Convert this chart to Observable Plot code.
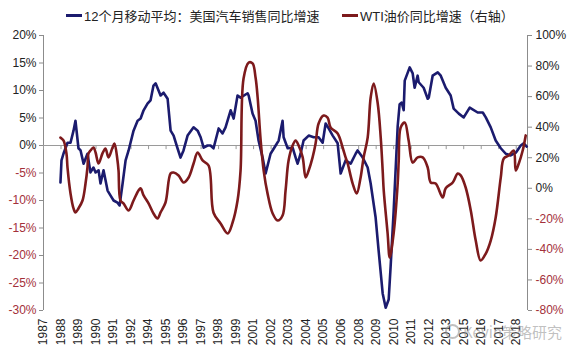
<!DOCTYPE html>
<html><head><meta charset="utf-8">
<script src="https://cdn.jsdelivr.net/npm/d3@7"></script>
<script src="https://cdn.jsdelivr.net/npm/@observablehq/plot@0.6"></script>
<style>
body{margin:0;background:#fff;font-family:"Liberation Sans","Noto Sans CJK SC",sans-serif;}
#wrap{position:relative;width:576px;height:353px;overflow:hidden;}
#legend{position:relative;height:28px;font-size:13px;color:#222;}
.item{position:absolute;top:6px;display:flex;align-items:center;white-space:nowrap;font-family:"Liberation Sans","Noto Sans CJK SC",sans-serif;}
.sw{display:inline-block;width:16px;height:3px;margin-right:2px;}
#wm{position:absolute;left:445px;top:321px;font-size:15px;color:rgba(140,140,140,0.55);font-family:"Noto Sans CJK SC",sans-serif;display:flex;align-items:center;}
#wm span.ic{display:inline-block;width:11px;height:11px;border:2px solid rgba(140,140,140,0.55);border-radius:50%;margin-right:3px;}
</style></head><body>
<div id="wrap">
  <div id="legend">
    <div class="item" style="left:66px"><span class="sw" style="background:#1b1b6e"></span>12个月移动平均：美国汽车销售同比增速</div>
    <div class="item" style="left:342px"><span class="sw" style="background:#7d1a1c"></span>WTI油价同比增速（右轴）</div>
  </div>
  <div id="chart"></div>
  <div id="wm"><span class="ic"></span>Kevin策略研究</div>
</div>
<script>
// US auto sales yoy (12m MA), left axis, %
const salesT = [1988.13,1988.2,1988.33,1988.6,1988.8,1989.0,1989.13,1989.33,1989.47,1989.67,1989.93,1990.13,1990.33,1990.47,1990.67,1990.8,1991.0,1991.27,1991.47,1991.67,1991.93,1992.07,1992.27,1992.47,1992.67,1993.0,1993.27,1993.47,1993.67,1993.93,1994.13,1994.33,1994.47,1994.8,1995.0,1995.27,1995.47,1995.67,1995.93,1996.13,1996.33,1996.6,1997.0,1997.27,1997.47,1997.67,1997.93,1998.13,1998.33,1998.67,1998.93,1999.13,1999.47,1999.67,1999.93,2000.13,2000.6,2000.67,2000.93,2001.13,2001.33,2001.6,2001.8,2002.13,2002.47,2002.67,2002.93,2003.0,2003.27,2003.6,2003.8,2003.93,2004.13,2004.33,2004.67,2005.0,2005.33,2005.6,2005.8,2006.0,2006.27,2006.6,2006.8,2007.13,2007.47,2007.8,2007.93,2008.27,2008.6,2008.8,2009.13,2009.33,2009.6,2009.8,2010.0,2010.13,2010.33,2010.47,2010.6,2010.73,2010.87,2011.0,2011.07,2011.4,2011.6,2011.73,2011.93,2012.0,2012.33,2012.6,2012.67,2012.93,2013.27,2013.47,2013.8,2014.13,2014.33,2014.67,2015.0,2015.4,2015.93,2016.27,2016.47,2016.8,2017.13,2017.47,2017.8,2018.13,2018.47,2018.8,2019.0,2019.2];
const salesV = [-6.7,-2.7,-1.5,0.5,0.5,2.7,4.5,-0.5,-0.9,-3.3,-1.5,-4.9,-4.0,-4.9,-4.5,-6.9,-4.5,-8.2,-9.1,-10.0,-10.4,-10.9,-6.9,-2.7,-0.9,2.7,4.5,4.9,6.4,7.6,8.2,10.9,11.3,9.1,9.6,8.5,2.7,1.8,-0.5,-2.2,-0.9,1.8,3.3,2.7,1.5,-0.4,0,0,-0.5,3.1,2.2,3.3,6.4,4.9,9.1,8.7,9.5,9.1,5.8,4.5,0.9,-2.2,-5.1,-1.5,0,0.9,4.5,1.5,-0.5,-0.4,-2.2,-3.3,-1.5,0.9,1.8,1.5,1.5,0.5,4.0,3.1,1.8,0.4,-5.1,-2.7,-3.3,-1.5,-0.9,-2.2,-4.0,-6.9,-13.1,-19.1,-26.9,-29.5,-28.0,-22.0,-12.0,-4.0,3.5,7.5,7.8,6.4,11.8,14.2,13.1,10.5,12.7,11.5,10.5,8.5,8.7,12.7,13.3,12.7,10.5,9.1,6.7,5.8,5.1,6.9,6.0,6.0,5.1,3.3,0.9,-0.5,-1.5,-1.8,-1.3,0,0.4,-0.2];

// WTI yoy, right axis, %
const wtiT = [1988.13,1988.33,1988.53,1988.6,1988.8,1989.0,1989.13,1989.33,1989.6,1989.8,1989.93,1990.0,1990.13,1990.33,1990.47,1990.67,1990.93,1991.13,1991.33,1991.6,1991.73,1991.93,1992.0,1992.13,1992.33,1992.67,1993.0,1993.33,1993.47,1993.67,1994.0,1994.33,1994.6,1994.8,1995.13,1995.47,1995.67,1996.0,1996.33,1996.67,1997.0,1997.27,1997.6,1998.0,1998.33,1998.8,1999.27,1999.6,1999.93,2000.13,2000.33,2000.67,2000.93,2001.13,2001.27,2001.47,2001.67,2001.93,2002.27,2002.6,2002.93,2003.13,2003.33,2003.6,2003.8,2004.0,2004.27,2004.47,2004.67,2004.93,2005.13,2005.33,2005.67,2005.93,2006.13,2006.6,2006.93,2007.13,2007.27,2007.6,2007.87,2008.13,2008.33,2008.6,2008.8,2009.0,2009.27,2009.47,2009.6,2009.67,2009.93,2010.07,2010.33,2010.6,2010.67,2010.8,2011.07,2011.33,2011.6,2011.93,2012.27,2012.6,2012.8,2013.13,2013.6,2013.8,2014.27,2014.6,2014.8,2015.13,2015.47,2015.8,2016.13,2016.47,2016.8,2017.13,2017.47,2017.67,2018.0,2018.33,2018.47,2018.67,2018.93,2019.13];
const wtiV = [33.2,31.3,22.8,13.5,-3.4,-13.2,-15.8,-13.2,-8.0,3.1,13.6,22.8,24.7,26.7,23.4,16.2,22.8,26.0,20.2,26.7,29.3,18.2,11.6,-8.0,-9.9,-14.5,-8.0,-1.4,0,-4.7,-9.9,-16.5,-19.8,-15.8,-9.3,9.7,10.3,8.4,3.8,7.1,16.2,23.4,18.2,14.9,-16.0,-23.0,-29.6,-22.4,-8.0,11.6,71.8,82.3,81.7,72.5,59.4,31.3,11.6,-3.5,-16.5,-21.1,-17.8,-1.4,18.2,28.0,31.3,28.0,20.2,7.1,11.6,20.2,29.3,42.4,47.6,46.3,39.8,35.9,26.7,20.2,16.2,3.1,-3.4,7.1,20.2,33.2,59.4,68.6,55.5,33.2,11.6,-1.4,-29.6,-45.3,-29.6,3.1,18.2,39.8,43.0,31.2,16.8,20.2,20.2,13.6,3.8,3.1,-6.0,0,3.8,9.7,8.4,0.5,-14.5,-34.2,-47.3,-42.7,-34.2,-19.1,7.1,19.5,21.5,24.7,11.6,16.2,24.7,34.6];

// axis ticks / labels
const yearLabels = ["1987","1988","1989","1990","1991","1992","1994","1995","1996","1997","1998","1999","2001","2002","2003","2004","2005","2006","2008","2009","2010","2011","2012","2013","2015","2016","2017","2018"];
const leftTicks = [-30,-25,-20,-15,-10,-5,0,5,10,15,20];
const rightTicks = [-80,-60,-40,-20,0,20,40,60,80,100];

const navy = "#1b1b6e", maroon = "#7d1a1c", negRed = "#a3303a", axisGray = "#8c8c8c";
const x0 = 1987, x1 = 1987 + 387/12;
const toLeft = w => -30 + (w + 80) * 50 / 180;
const fromLeft = v => (v + 30) * 180 / 50 - 80;
const tickPos = yearLabels.map((s, k) => 1987 + 14 * k / 12);
const labelOf = new Map(tickPos.map((p, k) => [p, yearLabels[k]]));

const sales = salesT.map((t, i) => ({t, v: salesV[i]}));
const wti = wtiT.map((t, i) => ({t, w: wtiV[i]}));

const chart = Plot.plot({
  width: 576, height: 325,
  marginTop: 7, marginBottom: 43, marginLeft: 43, marginRight: 49,
  style: {fontFamily: "Liberation Sans, Arial, sans-serif", fontSize: "12px", background: "#fff", overflow: "visible"},
  x: {domain: [x0, x1], axis: null},
  y: {domain: [-30, 20], axis: null},
  marks: [
    Plot.ruleX([x0], {stroke: axisGray}),
    Plot.ruleX([x1], {stroke: axisGray}),
    Plot.ruleY([0], {stroke: "#9a9a9a"}),
    Plot.ruleX(tickPos, {y1: 0, y2: -0.75, stroke: "#9a9a9a"}),
    Plot.axisY(leftTicks.filter(d => d >= 0), {anchor: "left", label: null, tickSize: 4, tickPadding: 3, stroke: axisGray, fill: "#222", tickFormat: d => d + "%"}),
    Plot.axisY(leftTicks.filter(d => d < 0), {anchor: "left", label: null, tickSize: 4, tickPadding: 3, stroke: axisGray, fill: negRed, tickFormat: d => d + "%"}),
    Plot.axisY(rightTicks.filter(d => d >= 0).map(toLeft), {anchor: "right", label: null, tickSize: 4, tickPadding: 4, stroke: axisGray, fill: "#222", tickFormat: v => Math.round(fromLeft(v)) + "%"}),
    Plot.axisY(rightTicks.filter(d => d < 0).map(toLeft), {anchor: "right", label: null, tickSize: 4, tickPadding: 4, stroke: axisGray, fill: negRed, tickFormat: v => Math.round(fromLeft(v)) + "%"}),
    Plot.axisX(tickPos, {anchor: "bottom", label: null, tickRotate: -90, tickSize: 0, tickPadding: 8, fill: "#222", tickFormat: d => labelOf.get(d)}),
    Plot.line(sales, {x: "t", y: "v", stroke: navy, strokeWidth: 2.6, curve: "linear"}),
    Plot.line(wti, {x: "t", y: d => toLeft(d.w), stroke: maroon, strokeWidth: 2.6, curve: "catmull-rom"})
  ]
});
document.getElementById("chart").appendChild(chart);
</script>
</body></html>
